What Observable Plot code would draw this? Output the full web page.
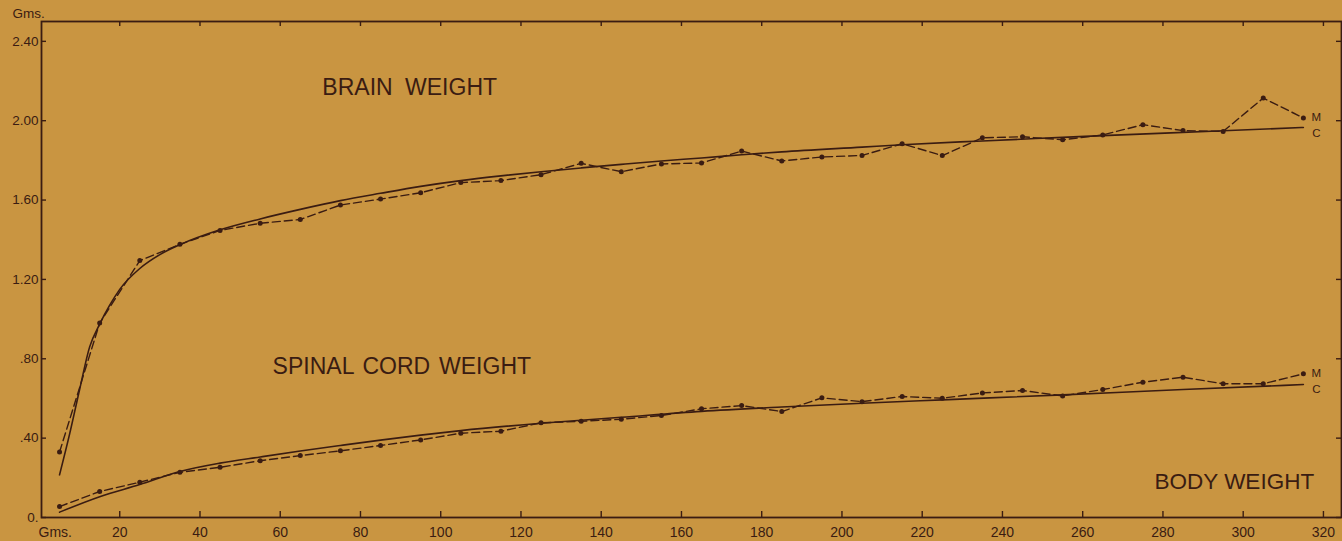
<!DOCTYPE html>
<html><head><meta charset="utf-8">
<script src="https://cdn.jsdelivr.net/npm/d3@7"></script>
<script src="https://cdn.jsdelivr.net/npm/@observablehq/plot@0.6"></script>
<style>
html,body{margin:0;padding:0;background:#c99541;overflow:hidden;}
#chart svg{display:block}
.wide-title text{word-spacing:6px;}
.mid-title text{word-spacing:2.5px;}
</style></head><body><div id="chart"></div>
<script>
// Body weight class midpoints (grams)
const bodyWeight = [5,15,25,35,45,55,65,75,85,95,105,115,125,135,145,155,165,175,185,195,205,215,225,235,245,255,265,275,285,295,305,315];
// Observed (M) brain weight
const brainM = [0.33,0.98,1.295,1.377,1.447,1.483,1.502,1.575,1.605,1.637,1.688,1.698,1.728,1.785,1.743,1.782,1.787,1.847,1.797,1.817,1.825,1.884,1.824,1.914,1.919,1.904,1.928,1.980,1.950,1.946,2.114,2.014];
// Observed (M) spinal cord weight
const spinalM = [0.055,0.131,0.178,0.228,0.253,0.286,0.312,0.336,0.363,0.391,0.425,0.435,0.477,0.485,0.495,0.514,0.548,0.564,0.534,0.603,0.584,0.610,0.601,0.628,0.640,0.613,0.645,0.682,0.707,0.674,0.674,0.724];
// Calculated (C) brain curve
const brainCx = [5,7.5,10,12.5,15,17.5,20,25,30,35,45,55,65,75,85,95,105,115,125,135,145,155,165,175,185,205,215,235,255,265,295,315];
const brainC  = [0.215,0.42,0.645,0.86,0.975,1.07,1.15,1.255,1.325,1.375,1.45,1.505,1.553,1.597,1.634,1.669,1.698,1.722,1.743,1.762,1.780,1.797,1.812,1.828,1.843,1.867,1.879,1.898,1.916,1.925,1.949,1.966];
// Calculated (C) spinal cord curve
const spinalCx = [5,15,25,35,45,55,65,75,85,95,105,125,145,165,185,205,225,255,285,315];
const spinalC  = [0.027,0.105,0.166,0.232,0.274,0.305,0.335,0.363,0.39,0.415,0.438,0.475,0.505,0.535,0.557,0.576,0.593,0.618,0.645,0.670];

const yTickValues = [0,0.4,0.8,1.2,1.6,2.0,2.4];
const yTickLabels = ["0.",".40",".80","1.20","1.60","2.00","2.40"];
const xTickValues = [20,40,60,80,100,120,140,160,180,200,220,240,260,280,300,320];
const xTickLabels = ["20","40","60","80","100","120","140","160","180","200","220","240","260","280","300","320"];
const seriesEndLabels = ["M","C"];
const titles = ["BRAIN WEIGHT","SPINAL CORD WEIGHT","BODY WEIGHT"];
const unitLabel = "Gms.";

// ---- layout / style ----
const W = 1342, H = 541, mL = 41, mR = 1, mT = 21, mB = 24;
const plotW = W - mL - mR, plotH = H - mT - mB;
const ink = "#3a1c12";
const bg = "#c99541";

const mTable = bodyWeight.map((x, i) => ({x, brain: brainM[i], spinal: spinalM[i]}));
const bcTable = brainCx.map((x, i) => ({x, y: brainC[i]}));
const scTable = spinalCx.map((x, i) => ({x, y: spinalC[i]}));
const lastM = mTable[mTable.length - 1];
const lastBC = bcTable[bcTable.length - 1];
const lastSC = scTable[scTable.length - 1];

const titlePosBrain = [{text: titles[0], x: 70.5, y: 2.167}];
const titlePosSpinal = [{text: titles[1], x: 58.1, y: 0.761}];
const titlePosBody = [{text: titles[2], x: 277.9, y: 0.181}];

const chart = Plot.plot({
  width: W, height: H,
  marginLeft: mL, marginRight: mR, marginTop: mT, marginBottom: mB,
  style: {background: bg, fontFamily: "'Liberation Sans', Arial, sans-serif", color: ink, overflow: "visible"},
  x: {domain: [0.5, 324.5]},
  y: {domain: [0, 2.5]},
  marks: [
    Plot.frame({stroke: ink, strokeWidth: 1.8}),
    Plot.tickY(yTickValues, {y: d => d, stroke: ink, strokeWidth: 1.4, insetRight: plotW - 5}),
    Plot.tickY(yTickValues, {y: d => d, stroke: ink, strokeWidth: 1.4, insetLeft: plotW - 5}),
    Plot.tickX(xTickValues, {x: d => d, stroke: ink, strokeWidth: 1.4, insetTop: plotH - 6}),
    Plot.tickX(xTickValues, {x: d => d, stroke: ink, strokeWidth: 1.4, insetBottom: plotH - 5}),
    Plot.axisY({ticks: yTickValues, tickSize: 0, tickPadding: 3, label: null, fontSize: 13.5,
      tickFormat: d => yTickLabels[yTickValues.indexOf(d)]}),
    Plot.axisX({ticks: xTickValues, tickSize: 0, tickPadding: 9.5, label: null, fontSize: 14,
      tickFormat: d => xTickLabels[xTickValues.indexOf(d)]}),
    Plot.text([unitLabel], {frameAnchor: "top-left", lineAnchor: "middle", dx: -29, dy: -8, textAnchor: "start", fontSize: 13.5, fill: ink}),
    Plot.text([unitLabel], {frameAnchor: "bottom-left", lineAnchor: "middle", dx: -3, dy: 15, textAnchor: "start", fontSize: 14, fill: ink}),
    // calculated curves
    Plot.line(bcTable, {x: "x", y: "y", stroke: ink, strokeWidth: 1.6, curve: "monotone-x"}),
    Plot.line(scTable, {x: "x", y: "y", stroke: ink, strokeWidth: 1.6, curve: "monotone-x"}),
    // measured series
    Plot.line(mTable, {x: "x", y: "brain", stroke: ink, strokeWidth: 1.4, strokeDasharray: "8,4"}),
    Plot.line(mTable, {x: "x", y: "spinal", stroke: ink, strokeWidth: 1.4, strokeDasharray: "8,4"}),
    Plot.dot(mTable, {x: "x", y: "brain", r: 2.5, fill: ink, stroke: "none"}),
    Plot.dot(mTable, {x: "x", y: "spinal", r: 2.5, fill: ink, stroke: "none"}),
    // end labels
    Plot.text([lastM], {x: "x", y: "brain", text: () => seriesEndLabels[0], dx: 13, dy: -1, fontSize: 11.5, fill: ink}),
    Plot.text([lastBC], {x: "x", y: "y", text: () => seriesEndLabels[1], dx: 13, dy: 6, fontSize: 11.5, fill: ink}),
    Plot.text([lastM], {x: "x", y: "spinal", text: () => seriesEndLabels[0], dx: 13, dy: -1, fontSize: 11.5, fill: ink}),
    Plot.text([lastSC], {x: "x", y: "y", text: () => seriesEndLabels[1], dx: 13, dy: 5, fontSize: 11.5, fill: ink}),
    // titles
    Plot.text(titlePosBrain, {x: "x", y: "y", text: "text", fontSize: 23, textAnchor: "start", fill: ink, className: "wide-title"}),
    Plot.text(titlePosSpinal, {x: "x", y: "y", text: "text", fontSize: 23, textAnchor: "start", fill: ink, className: "mid-title"}),
    Plot.text(titlePosBody, {x: "x", y: "y", text: "text", fontSize: 22.5, textAnchor: "start", fill: ink})
  ]
});
document.getElementById("chart").append(chart);
</script></body></html>
